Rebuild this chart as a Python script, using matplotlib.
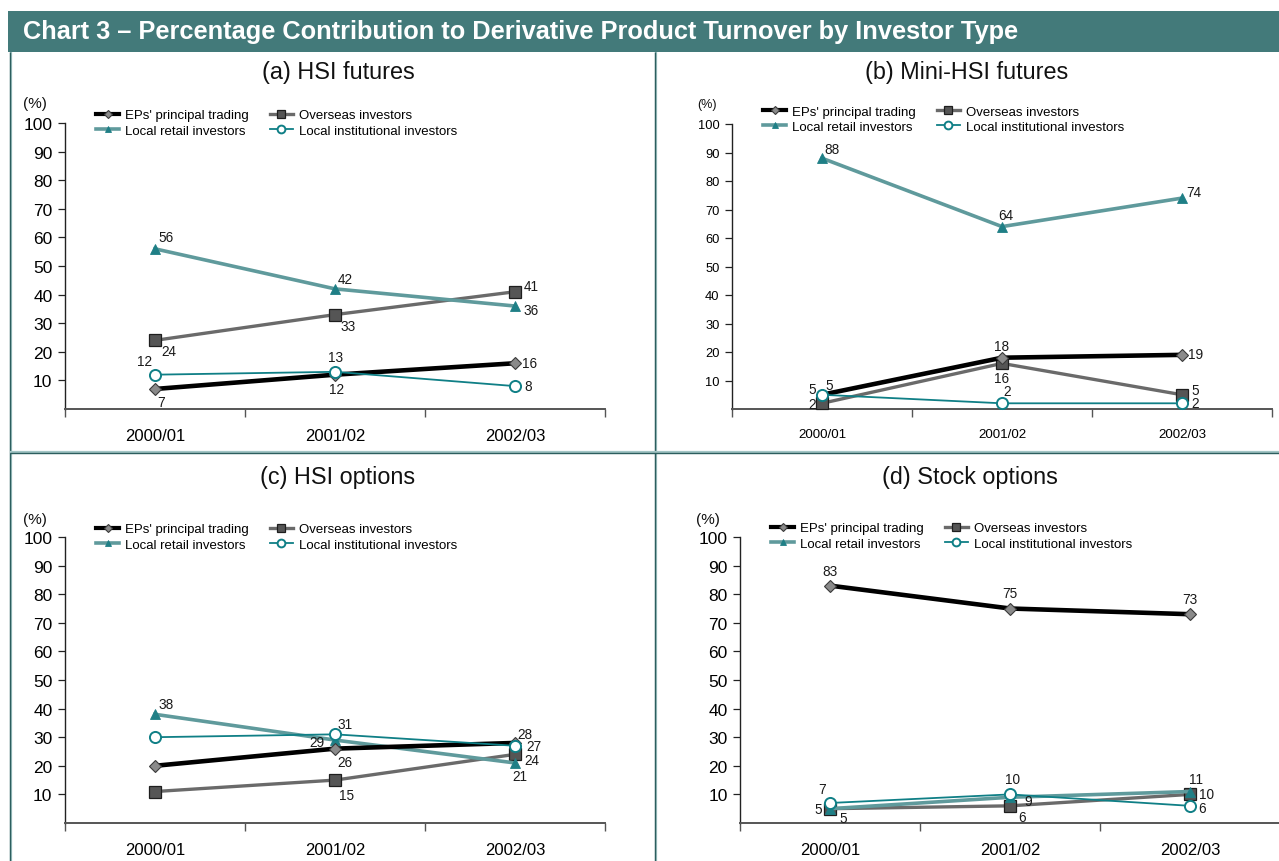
import matplotlib
matplotlib.use("Agg")
import matplotlib.pyplot as plt
from matplotlib.lines import Line2D
from matplotlib.patches import Rectangle

plt.rcParams['font.family'] = ['Liberation Sans', 'DejaVu Sans']

# ---------------- data ----------------
years = ["2000/01", "2001/02", "2002/03"]
series_names = ["EPs' principal trading", "Overseas investors",
                "Local retail investors", "Local institutional investors"]

hsi_fut_eps = [7, 12, 16]
hsi_fut_overseas = [24, 33, 41]
hsi_fut_retail = [56, 42, 36]
hsi_fut_inst = [12, 13, 8]

mini_eps = [5, 18, 19]
mini_overseas = [2, 16, 5]
mini_retail = [88, 64, 74]
mini_inst = [5, 2, 2]

hsi_opt_eps = [20, 26, 28]
hsi_opt_overseas = [11, 15, 24]
hsi_opt_retail = [38, 29, 21]
hsi_opt_inst = [30, 31, 27]

stk_opt_eps = [83, 75, 73]
stk_opt_overseas = [5, 6, 10]
stk_opt_retail = [5, 9, 11]
stk_opt_inst = [7, 10, 6]

panel_titles = ["(a) HSI futures", "(b) Mini-HSI futures", "(c) HSI options", "(d) Stock options"]
header_title = "Chart 3 \u2013 Percentage Contribution to Derivative Product Turnover by Investor Type"

# which values carry a data label per series
labels_shown = {
    0: [[1, 1, 1], [1, 1, 1], [1, 1, 1], [1, 1, 1]],
    1: [[1, 1, 1], [1, 1, 1], [1, 1, 1], [1, 1, 1]],
    2: [[0, 1, 1], [0, 1, 1], [1, 1, 1], [0, 1, 1]],
    3: [[1, 1, 1], [1, 1, 1], [1, 1, 1], [1, 1, 1]],
}
# label offsets in pixels (style)
label_offsets = {
    0: [[(6, -13), (2, -14), (15, 0)],
        [(14, -11), (13, -11), (16, 6)],
        [(11, 12), (10, 10), (16, -4)],
        [(-11, 14), (1, 15), (13, 0)]],
    1: [[(7, 10), (0, 12), (14, 1)],
        [(-10, -1), (0, -15), (13, 5)],
        [(10, 9), (4, 12), (12, 6)],
        [(-10, 6), (5, 12), (13, 0)]],
    2: [[(0, 0), (10, -13), (10, 9)],
        [(0, 0), (12, -15), (17, -6)],
        [(11, 10), (-18, -2), (5, -13)],
        [(0, 0), (10, 10), (19, 0)]],
    3: [[(0, 15), (0, 15), (0, 15)],
        [(13, -9), (12, -11), (16, 0)],
        [(-12, 0), (18, -4), (6, 13)],
        [(-8, 14), (2, 15), (12, -2)]],
}

panels = [
    [hsi_fut_eps, hsi_fut_overseas, hsi_fut_retail, hsi_fut_inst],
    [mini_eps, mini_overseas, mini_retail, mini_inst],
    [hsi_opt_eps, hsi_opt_overseas, hsi_opt_retail, hsi_opt_inst],
    [stk_opt_eps, stk_opt_overseas, stk_opt_retail, stk_opt_inst],
]

# ---------------- styles ----------------
W, H = 1279, 862
teal_header = "#437A7A"
border_dark = "#2C5E5E"
border_light = "#A3C5C5"

styles = [
    dict(color="black", lw=3.3, marker="D", ms=6, mfc="#8A8A8A", mec="#3A3A3A", mew=0.8, zorder=4),
    dict(color="#6A6A6A", lw=2.4, marker="s", ms=8.5, mfc="#555555", mec="#1E1E1E", mew=0.9, zorder=3),
    dict(color="#5F9A9C", lw=2.6, marker="^", ms=6.5, mfc="#1F7F86", mec="#1F7F86", mew=0.6, zorder=3),
    dict(color="#0F7F86", lw=1.3, marker="o", ms=8, mfc="white", mec="#0F7F86", mew=1.4, zorder=5),
]
legend_order = [0, 2, 1, 3]

# axes boxes in pixels: (left, right, y_of_0, y_of_100)
boxes = [(65, 605, 410, 124), (732, 1272, 410, 125), (65, 605, 824, 538), (740, 1280, 824, 538)]
ytick_fs = [12.5, 9.3, 12.5, 12.5]
xtick_fs = [12, 9.6, 12, 12]
title_pos = [(338, 73), (967, 73), (338, 478), (970, 478)]
pct_pos = [(35, 104), (707, 105), (35, 520), (708, 520)]
pct_fs = [11, 9, 11, 11]
legend_anchor = [(0.058, 1.0), (0.058, 1.017), (0.058, 1.0), (0.058, 1.003)]

fig = plt.figure(figsize=(W / 100, H / 100), dpi=100)
fig.patch.set_facecolor("white")

# header band
fig.patches.append(Rectangle((8 / W, 1 - 53 / H), 1 - 8 / W, 41 / H, transform=fig.transFigure,
                             facecolor=teal_header, edgecolor="none", zorder=0))
fig.text(23 / W, 1 - 32 / H, header_title, color="white", fontsize=18.3, fontweight="bold",
         ha="left", va="center")

# borders
def fline(x0, y0, x1, y1, color, lw):
    fig.lines.append(Line2D([x0 / W, x1 / W], [1 - y0 / H, 1 - y1 / H], transform=fig.transFigure,
                            color=color, lw=lw, solid_capstyle="butt"))

fline(10.5, 53, 10.5, 862, border_light, 1.6)
fline(9.5, 53, 9.5, 862, border_dark, 1.0)
fline(656, 53, 656, 862, border_light, 1.6)
fline(655, 53, 655, 862, border_dark, 1.0)
fline(10, 453, 1279, 453, border_light, 1.6)
fline(10, 454, 1279, 454, border_dark, 1.0)

for p, data in enumerate(panels):
    l, r, y0, y100 = boxes[p]
    ax = fig.add_axes([l / W, 1 - y0 / H, (r - l) / W, (y0 - y100) / H])
    ax.set_xlim(-0.5, 2.5)
    ax.set_ylim(0, 100)
    x = list(range(len(years)))
    handles = []
    for s, vals in enumerate(data):
        ln, = ax.plot(x, vals, label=series_names[s], clip_on=False, **styles[s])
        handles.append(ln)
        for i, v in enumerate(vals):
            if labels_shown[p][s][i]:
                dx, dy = label_offsets[p][s][i]
                ax.annotate(str(v), (x[i], v), xytext=(dx, dy), textcoords="offset pixels",
                            ha="center", va="center", fontsize=9.8, color="#1A1A1A", zorder=6)
    for sp in ["top", "right"]:
        ax.spines[sp].set_visible(False)
    ax.spines["left"].set_color("#222222")
    ax.spines["bottom"].set_color("#555555")
    ax.spines["left"].set_linewidth(1.0)
    ax.spines["bottom"].set_linewidth(1.4)
    ax.set_yticks(range(10, 101, 10))
    ax.tick_params(axis="y", direction="out", length=5, width=0.9, color="#222222",
                   labelsize=ytick_fs[p], pad=4)
    ax.set_xticks([-0.5, 0.5, 1.5, 2.5])
    ax.set_xticklabels([])
    ax.tick_params(axis="x", which="major", direction="out", length=6, width=1.0, color="#555555")
    ax.set_xticks(x, minor=True)
    ax.set_xticklabels(years, minor=True, fontsize=xtick_fs[p])
    ax.tick_params(axis="x", which="minor", length=0, pad=14)
    ax.patch.set_alpha(0)

    hs = [handles[k] for k in legend_order]
    leg = ax.legend(hs, [h.get_label() for h in hs], ncol=2, loc="center left",
                    bbox_to_anchor=legend_anchor[p], frameon=False,
                    fontsize=9.5, handlelength=1.7, handletextpad=0.5, columnspacing=1.6,
                    borderpad=0, borderaxespad=0, labelspacing=0.25, markerscale=0.7)
    for h in leg.get_lines():
        h.set_linewidth(min(h.get_linewidth(), 3.0))

    tx, ty = title_pos[p]
    fig.text(tx / W, 1 - ty / H, panel_titles[p], fontsize=16.8, ha="center", va="center", color="#111111")
    px, py = pct_pos[p]
    fig.text(px / W, 1 - py / H, "(%)", fontsize=pct_fs[p], ha="center", va="center", color="#111111")

fig.savefig("out.png", dpi=100, facecolor="white")
